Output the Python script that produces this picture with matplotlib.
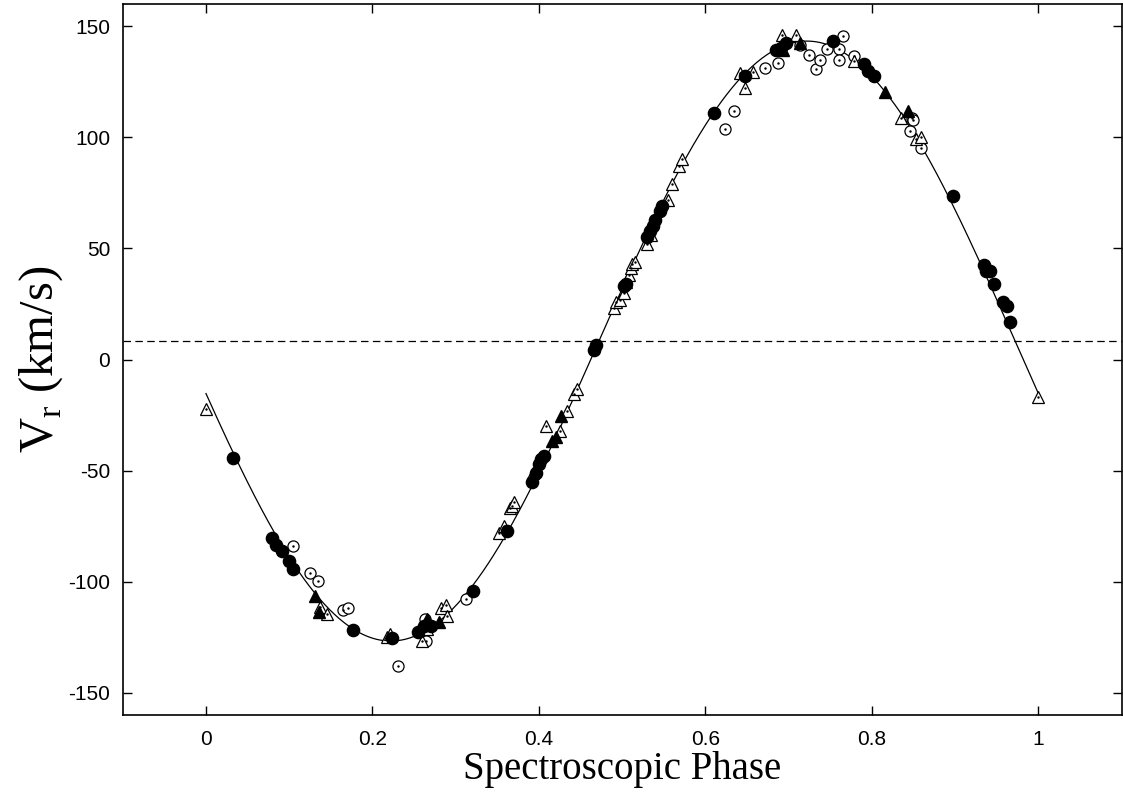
import numpy as np
import matplotlib
matplotlib.use('Agg')
import matplotlib.pyplot as plt
from matplotlib.ticker import FuncFormatter

plt.rcParams['axes.unicode_minus'] = False
plt.rcParams['mathtext.fontset'] = 'custom'
plt.rcParams['mathtext.rm'] = 'Liberation Serif'

# orbital solution
gammaVel = 8.3     # systemic velocity (km/s)
semiAmp = 135.0    # K (km/s)
phaseZero = 0.472  # phase of rising gamma crossing

# filled circles
fcPhase = [0.032, 0.079, 0.084, 0.091, 0.100, 0.105, 0.177, 0.223, 0.255, 0.262, 0.270, 0.321,
           0.362, 0.392, 0.396, 0.400, 0.403, 0.406, 0.466, 0.468, 0.502, 0.505,
           0.530, 0.533, 0.537, 0.540, 0.545, 0.548, 0.610, 0.647, 0.685, 0.691, 0.697,
           0.753, 0.791, 0.795, 0.803, 0.897, 0.935, 0.937, 0.942, 0.947, 0.957, 0.962, 0.966]
fcVel = [-44.3, -80.2, -83.5, -86.2, -90.7, -94.1, -121.8, -125.2, -122.8, -119.8, -119.8, -104.1,
         -77.0, -55.0, -51.0, -47.0, -45.0, -43.5, 4.3, 6.5, 33.0, 34.0,
         55.0, 58.0, 60.0, 63.0, 67.0, 69.0, 110.9, 127.7, 139.2, 140.4, 142.6,
         143.4, 132.9, 129.9, 127.4, 73.5, 42.4, 39.9, 39.9, 34.2, 26.0, 24.0, 16.7]

# open circles
ocPhase = [0.105, 0.125, 0.135, 0.165, 0.171, 0.231, 0.263, 0.264, 0.312,
           0.623, 0.634, 0.672, 0.687, 0.714, 0.725, 0.733, 0.738, 0.746, 0.760, 0.760,
           0.765, 0.779, 0.846, 0.848, 0.849, 0.859]
ocVel = [-83.9, -95.9, -99.9, -112.6, -111.8, -138.0, -116.8, -126.8, -107.8,
         103.8, 112.0, 131.4, 133.6, 141.4, 137.0, 130.7, 134.7, 139.7, 139.9, 134.9,
         145.6, 136.7, 103.0, 108.5, 107.8, 95.1]

# open triangles
otPhase = [0.000, 0.137, 0.145, 0.217, 0.221, 0.259, 0.265, 0.282, 0.288, 0.289,
           0.352, 0.358, 0.365, 0.368, 0.370, 0.393, 0.409, 0.425, 0.434, 0.442, 0.446,
           0.490, 0.493, 0.497, 0.502, 0.505, 0.508, 0.510, 0.512, 0.515,
           0.530, 0.535, 0.555, 0.560, 0.568, 0.572, 0.641, 0.648, 0.657, 0.692, 0.709,
           0.779, 0.835, 0.853, 0.859, 0.999]
otVel = [-22.3, -111.3, -114.6, -124.8, -123.6, -126.8, -121.3, -112.0, -110.4, -115.6,
         -77.9, -75.0, -67.0, -66.0, -64.0, -51.0, -29.8, -32.0, -23.1, -15.6, -13.3,
         23.0, 26.0, 27.0, 30.0, 35.0, 38.0, 41.0, 43.0, 44.0,
         52.0, 56.0, 72.0, 79.1, 86.9, 90.3, 128.9, 122.4, 129.2, 146.1, 146.1,
         134.4, 108.5, 99.3, 100.3, -16.9]

# filled triangles
ftPhase = [0.131, 0.136, 0.266, 0.280, 0.416, 0.420, 0.426, 0.693, 0.714, 0.816, 0.843]
ftVel = [-106.4, -113.5, -116.8, -118.3, -36.8, -34.9, -25.6, 139.2, 142.6, 120.2, 112.0]

fig = plt.figure(figsize=(11.23, 7.99), dpi=100)
ax = fig.add_axes([0.1093, 0.1051, 0.8895, 0.8899])

# fitted orbit
phi = np.linspace(0, 1, 500)
ax.plot(phi, gammaVel + semiAmp * np.sin(2 * np.pi * (phi - phaseZero)), color='k', lw=0.9, zorder=2)
ax.axhline(gammaVel, color='k', lw=0.9, ls=(0, (6, 3.5)), zorder=1)

ax.plot(ocPhase, ocVel, 'o', ms=8, mfc='white', mec='k', mew=0.9, zorder=3)
ax.plot(ocPhase, ocVel, '.', ms=1.5, color='k', zorder=3)
ax.plot(otPhase, otVel, '^', ms=8, mfc='white', mec='k', mew=0.9, zorder=4)
ax.plot(otPhase, otVel, '.', ms=1.5, color='k', zorder=4)
ax.plot(fcPhase, fcVel, 'o', ms=8.8, color='k', zorder=5)
ax.plot(ftPhase, ftVel, '^', ms=8.5, color='k', zorder=5)

ax.set_xlim(-0.1, 1.1)
ax.set_ylim(-160, 160)
ax.set_xticks([0, 0.2, 0.4, 0.6, 0.8, 1])
ax.set_yticks([-150, -100, -50, 0, 50, 100, 150])
ax.xaxis.set_major_formatter(FuncFormatter(lambda v, p: '%g' % v))
ax.tick_params(direction='in', length=6.5, width=1, top=True, right=True, labelsize=15)
ax.tick_params(axis='x', pad=11)
ax.tick_params(axis='y', pad=9)
for lbl in ax.get_xticklabels() + ax.get_yticklabels():
    lbl.set_family('Liberation Sans')
for s in ax.spines.values():
    s.set_linewidth(1.2)

ax.set_xlabel('Spectroscopic Phase', family='Liberation Serif', fontsize=28, labelpad=1)
ax.set_ylabel(r'V$_{\rm r}$ (km/s)', family='Liberation Serif', fontsize=35, labelpad=2)

fig.savefig('out.png', dpi=100)
